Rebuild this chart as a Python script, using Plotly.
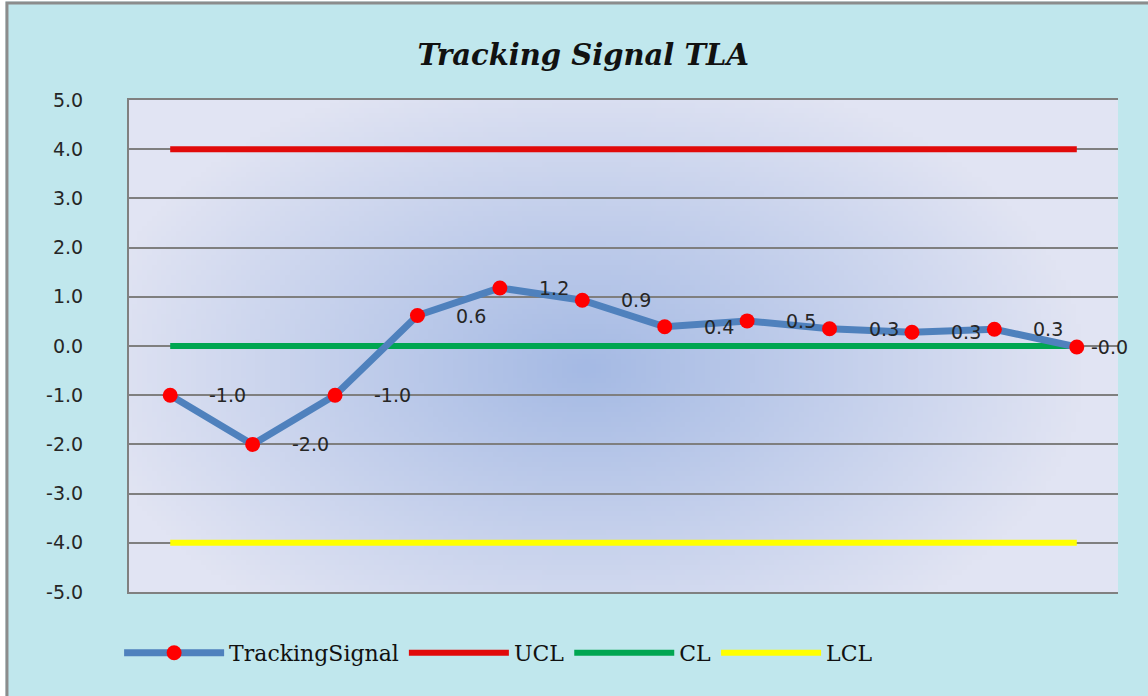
import base64
import struct
import zlib

import numpy as np
import plotly.graph_objects as go

# data
periods = [1, 2, 3, 4, 5, 6, 7, 8, 9, 10, 11, 12]
tracking_signal = [-1.0, -2.0, -1.0, 0.62, 1.18, 0.93, 0.39, 0.51, 0.35, 0.28, 0.34, -0.02]
tracking_labels = ["-1.0", "-2.0", "-1.0", "0.6", "1.2", "0.9", "0.4", "0.5", "0.3", "0.3", "0.3", "-0.0"]
ucl = [4.0] * 12
cl = [0.0] * 12
lcl = [-4.0] * 12
y_ticks = [5.0, 4.0, 3.0, 2.0, 1.0, 0.0, -1.0, -2.0, -3.0, -4.0, -5.0]


def png_uri(arr):
    """Encode an RGB uint8 array as a PNG data URI."""
    h, w, _ = arr.shape
    raw = b"".join(b"\x00" + arr[row].tobytes() for row in range(h))

    def chunk(tag, data):
        body = tag + data
        return struct.pack(">I", len(data)) + body + struct.pack(">I", zlib.crc32(body) & 0xFFFFFFFF)

    png = (
        b"\x89PNG\r\n\x1a\n"
        + chunk(b"IHDR", struct.pack(">IIBBBBB", w, h, 8, 2, 0, 0, 0))
        + chunk(b"IDAT", zlib.compress(raw, 9))
        + chunk(b"IEND", b"")
    )
    return "data:image/png;base64," + base64.b64encode(png).decode()


def radial_gradient(w, h, cx, cy, inner, outer):
    yy, xx = np.mgrid[0:h, 0:w]
    d = np.sqrt(((xx - cx) / (w * 0.5)) ** 2 + ((yy - cy) / (h * 0.62)) ** 2)
    t = np.clip(d, 0, 1)[..., None]
    col = np.array(inner) * (1 - t) + np.array(outer) * t
    return col.astype(np.uint8)


plot_bg = png_uri(radial_gradient(200, 100, 92, 54, (165, 186, 228), (225, 228, 243)))

fig = go.Figure()

fig.add_trace(go.Scatter(x=periods, y=ucl, mode="lines", name="UCL",
                         line=dict(color="#e10a0a", width=6), legendrank=2))
fig.add_trace(go.Scatter(x=periods, y=cl, mode="lines", name="CL",
                         line=dict(color="#00a651", width=6), legendrank=3))
fig.add_trace(go.Scatter(x=periods, y=lcl, mode="lines", name="LCL",
                         line=dict(color="#ffff00", width=6), legendrank=4))
fig.add_trace(go.Scatter(
    x=periods,
    y=tracking_signal,
    mode="lines+markers",
    name="TrackingSignal",
    line=dict(color="#4f81bd", width=7),
    marker=dict(color="#ff0000", size=15),
    legendrank=1,
))

for i, (x, y, label) in enumerate(zip(periods, tracking_signal, tracking_labels)):
    fig.add_annotation(
        x=x, y=y, text=label, showarrow=False,
        xanchor="left", yanchor="middle",
        xshift=12 if i == len(periods) - 1 else 37,
        font=dict(family="DejaVu Sans", size=19, color="#262626"),
    )

# white page edge outside the chart frame, then the grey frame itself
fig.add_shape(type="rect", xref="paper", yref="paper",
              x0=-0.2, y0=-0.4, x1=-0.1249, y1=1.4,
              fillcolor="white", line_width=0, layer="below")
fig.add_shape(type="rect", xref="paper", yref="paper",
              x0=-0.2, y0=1.2002, x1=1.2, y1=1.4,
              fillcolor="white", line_width=0, layer="below")
fig.add_shape(type="rect", xref="paper", yref="paper",
              x0=-0.1234, y0=-0.4, x1=1.2, y1=1.197,
              line=dict(color="#8c8c8c", width=3), layer="below")

fig.add_layout_image(dict(
    source=plot_bg, xref="paper", yref="paper", x=0, y=1,
    sizex=1, sizey=1, sizing="stretch", layer="below",
))

fig.update_layout(
    width=1148,
    height=696,
    autosize=False,
    margin=dict(l=129, r=30, t=100, b=104),
    paper_bgcolor="#c0e7ed",
    plot_bgcolor="rgba(0,0,0,0)",
    title=dict(
        text="<b><i>Tracking Signal TLA</i></b>",
        x=0.508, xref="container", xanchor="center",
        y=0.921, yref="container", yanchor="middle",
        font=dict(family="DejaVu Serif", size=29, color="#111111"),
    ),
    xaxis=dict(
        range=[0.5, 12.5],
        showticklabels=False,
        showgrid=False,
        zeroline=False,
        showline=True,
        mirror=True,
        linecolor="#808080",
        linewidth=2,
    ),
    yaxis=dict(
        range=[-5, 5],
        tickvals=y_ticks,
        ticktext=[f"{v:.1f}" for v in y_ticks],
        ticklabelstandoff=40,
        tickfont=dict(family="DejaVu Sans", size=19, color="#262626"),
        showgrid=True,
        gridcolor="#7f7f7f",
        gridwidth=1.5,
        zeroline=False,
        showline=True,
        linecolor="#808080",
        linewidth=2,
    ),
    legend=dict(
        orientation="h",
        x=-0.01, xanchor="left",
        y=-0.124, yanchor="middle",
        bgcolor="rgba(0,0,0,0)",
        itemwidth=100,
        font=dict(family="DejaVu Serif", size=22, color="#111111"),
    ),
    showlegend=True,
)

fig.write_html(
    "out.html",
    config={"displayModeBar": False},
    post_script="document.body.style.margin = '0';",
)
